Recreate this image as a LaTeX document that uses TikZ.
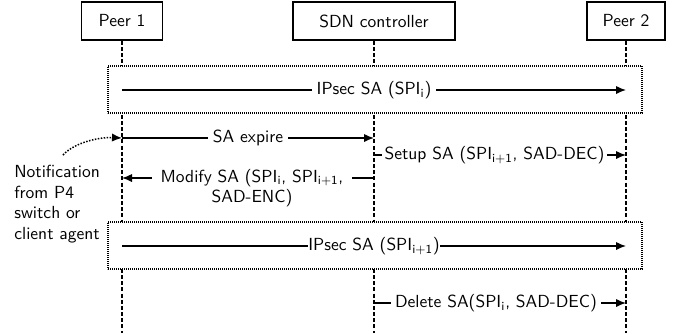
\documentclass[tikz,border=0pt]{standalone}
\usetikzlibrary{arrows.meta}
\begin{document}
\begin{tikzpicture}[x=0.6pt,y=-0.6pt, font=\sffamily\fontsize{10.5}{12.3}\selectfont,
  actor/.style={draw, line width=0.9pt, minimum height=22.8pt, inner sep=0pt},
  life/.style={line width=0.8pt, dash pattern=on 2.4pt off 1.3pt},
  phase/.style={draw, fill=white, line width=0.8pt, dash pattern=on 0.6pt off 0.6pt, minimum width=320.4pt, minimum height=28.2pt, inner sep=0pt},
  msg/.style={line width=0.9pt, -{Latex[length=6pt,width=5pt]}},
  lbl/.style={fill=white, inner ysep=1pt, inner xsep=3pt},
  tight/.style={fill=white, inner ysep=1pt, inner xsep=0.5pt}
]
\useasboundingbox (0,0) rectangle (678,333);
% actors
\node[actor, minimum width=48.6pt] (p1) at (122,21) {Peer 1};
\node[actor, minimum width=97.2pt] (sdn) at (374,21) {SDN controller};
\node[actor, minimum width=46.8pt] (p2) at (626,21) {Peer 2};
\coordinate (p1end) at (122,333);
\coordinate (sdnend) at (374,333);
\coordinate (p2end) at (626,333);
\draw[life] (p1) -- (p1end);
\draw[life] (sdn) -- (sdnend);
\draw[life] (p2) -- (p2end);
% phases
\node[phase] (ph1) at (375,89.5) {};
\node[phase] (ph2) at (375,245.5) {};
% message points
\coordinate (a1) at (122,90);  \coordinate (a2) at (626,90);
\coordinate (b1) at (122,138); \coordinate (b2) at (374,138);
\coordinate (c1) at (374,155); \coordinate (c2) at (626,155);
\coordinate (d1) at (374,178); \coordinate (d2) at (122,178);
\coordinate (e1) at (122,246); \coordinate (e2) at (626,246);
\coordinate (f1) at (374,303); \coordinate (f2) at (626,303);
% messages
\draw[msg] (a1) -- node[lbl] (la) {IPsec SA (SPI\textsubscript{i})} (a2);
\draw[msg] (b1) -- node[lbl] (lb) {SA expire} (b2);
\draw[msg] (c1) -- node[lbl, pos=0.478, inner xsep=1.5pt] (lc) {Setup SA (SPI\textsubscript{i+1}, SAD-DEC)} (c2);
\draw[msg] (d1) -- (d2);
\node[fill=white, align=center, inner xsep=5pt, inner ysep=2pt] (ld) at (252,188) {Modify SA (SPI\textsubscript{i}, SPI\textsubscript{i+1},\\SAD-ENC)};
\draw[msg] (e1) -- node[tight] (le) {IPsec SA (SPI\textsubscript{i+1})} (e2);
\draw[msg] (f1) -- node[lbl, pos=0.484, inner xsep=2.5pt] (lf) {Delete SA(SPI\textsubscript{i}, SAD-DEC)} (f2);
% notification
\node[anchor=north west, align=left, inner sep=0pt] (note) at (14,165) {Notification\\from P4\\switch or\\client agent};
\coordinate (ns) at (63,155);
\draw[line width=0.9pt, dash pattern=on 0.9pt off 0.9pt, -{Latex[length=6pt,width=5pt]}] (ns) .. controls (75,142) and (100,137) .. (b1);
\end{tikzpicture}
\end{document}
